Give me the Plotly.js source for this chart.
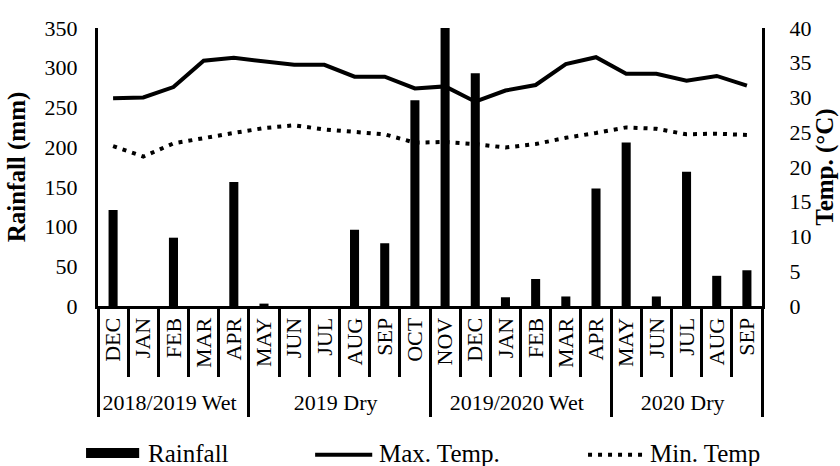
<!DOCTYPE html>
<html>
<head>
<meta charset="utf-8">
<script src="https://cdn.plot.ly/plotly-3.0.1.min.js"></script>
<style>html,body{margin:0;padding:0;background:#fff;}#chart{width:840px;height:466px;}</style>
</head>
<body>
<div id="chart"></div>
<script>
// ---- data ----
// second-year month names carry a zero-width space so the multicategory axis keeps them distinct
const months = ["DEC","JAN","FEB","MAR","APR","MAY","JUN","JUL","AUG","SEP","OCT",
                "NOV","DEC\u200B","JAN\u200B","FEB\u200B","MAR\u200B","APR\u200B",
                "MAY\u200B","JUN\u200B","JUL\u200B","AUG\u200B","SEP\u200B"];
const seasons = ["2018/2019 Wet","2018/2019 Wet","2018/2019 Wet","2018/2019 Wet","2018/2019 Wet",
                 "2019 Dry","2019 Dry","2019 Dry","2019 Dry","2019 Dry","2019 Dry",
                 "2019/2020 Wet","2019/2020 Wet","2019/2020 Wet","2019/2020 Wet","2019/2020 Wet","2019/2020 Wet",
                 "2020 Dry","2020 Dry","2020 Dry","2020 Dry","2020 Dry"];
const rainfall = [121, 0, 86, 0, 156, 3, 0, 0, 96, 79, 259,
                  350, 293, 11, 34, 12, 148, 206, 12, 169, 38, 45];
const maxTemp = [29.9, 30.0, 31.5, 35.3, 35.7, 35.2, 34.7, 34.7, 33.0, 33.0, 31.3,
                 31.6, 29.4, 31.0, 31.8, 34.8, 35.8, 33.4, 33.4, 32.4, 33.1, 31.7];
const minTemp = [23.0, 21.5, 23.4, 24.2, 24.9, 25.6, 26.0, 25.4, 25.0, 24.7, 23.5,
                 23.6, 23.3, 22.8, 23.3, 24.2, 24.9, 25.7, 25.5, 24.7, 24.8, 24.6];
const seriesNames = ["Rainfall", "Max. Temp.", "Min. Temp"];

const FONT = "Liberation Serif, Times New Roman, serif";
const x = [seasons, months];

const traces = [
  {type: "bar", x: x, y: rainfall, name: seriesNames[0], marker: {color: "#000"}, yaxis: "y"},
  {type: "scatter", mode: "lines", x: x, y: maxTemp, name: seriesNames[1], yaxis: "y2",
   line: {color: "#000", width: 4}},
  {type: "scatter", mode: "lines", x: x, y: minTemp, name: seriesNames[2], yaxis: "y2",
   line: {color: "#000", width: 4, dash: "4px,6px"}}
];

const layout = {
  width: 840, height: 466,
  margin: {l: 98, r: 78, t: 28, b: 160},
  paper_bgcolor: "#fff", plot_bgcolor: "#fff",
  font: {family: FONT, color: "#000", size: 22},
  showlegend: false,
  bargap: 0.7,
  xaxis: {
    type: "multicategory",
    showline: true, linecolor: "#000", linewidth: 3,
    ticks: "outside", tickson: "boundaries", ticklen: 68, tickwidth: 3, tickcolor: "#000",
    tickangle: -90,
    tickfont: {family: FONT, size: 22, color: "#000"},
    showdividers: true, dividercolor: "#000", dividerwidth: 3,
    showgrid: false, zeroline: false
  },
  yaxis: {
    range: [0, 350], dtick: 50, showgrid: false, zeroline: false,
    showline: true, linecolor: "#000", linewidth: 3, ticks: "",
    ticklabelstandoff: 13,
    tickfont: {family: FONT, size: 22, color: "#000"},
    title: {text: "<b>Rainfall (mm)</b>", font: {family: FONT, size: 25, color: "#000"}, standoff: 12}
  },
  yaxis2: {
    overlaying: "y", side: "right",
    range: [0, 40], dtick: 5, showgrid: false, zeroline: false,
    showline: true, linecolor: "#000", linewidth: 3, ticks: "",
    ticklabelstandoff: 20,
    tickfont: {family: FONT, size: 22, color: "#000"},
    title: {text: "<b>Temp. (°C)</b>", font: {family: FONT, size: 25, color: "#000"}, standoff: 6}
  },
  shapes: [
    {type: "rect", xref: "paper", yref: "paper", x0: -0.018, x1: 0.062, y0: -0.547, y1: -0.511,
     fillcolor: "#000", line: {width: 0}},
    {type: "line", xref: "paper", yref: "paper", x0: 0.327, x1: 0.413, y0: -0.535, y1: -0.535,
     line: {color: "#000", width: 4}},
    {type: "line", xref: "paper", yref: "paper", x0: 0.738, x1: 0.824, y0: -0.535, y1: -0.535,
     line: {color: "#000", width: 4, dash: "4px,6px"}}
  ],
  annotations: [
    {xref: "paper", yref: "paper", x: 0.072, y: -0.532, xanchor: "left", yanchor: "middle",
     text: seriesNames[0], showarrow: false, font: {family: FONT, size: 25, color: "#000"}},
    {xref: "paper", yref: "paper", x: 0.420, y: -0.532, xanchor: "left", yanchor: "middle",
     text: seriesNames[1], showarrow: false, font: {family: FONT, size: 25, color: "#000"}},
    {xref: "paper", yref: "paper", x: 0.829, y: -0.532, xanchor: "left", yanchor: "middle",
     text: seriesNames[2], showarrow: false, font: {family: FONT, size: 25, color: "#000"}}
  ]
};

Plotly.newPlot("chart", traces, layout, {displayModeBar: false, staticPlot: true});
</script>
</body>
</html>
